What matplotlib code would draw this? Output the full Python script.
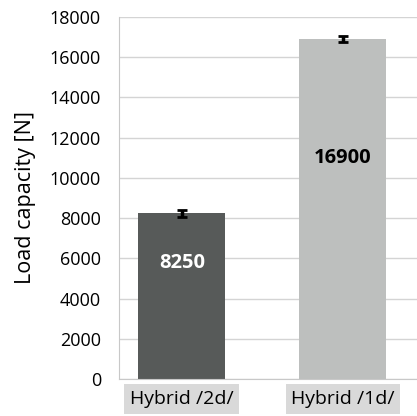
import matplotlib.pyplot as plt

categories = ['Hybrid /2d/', 'Hybrid /1d/']
load = [8250, 16900]
errors = [170, 150]
bar_colors = ['#575a59', '#bdbfbe']
label_colors = ['white', 'black']
yticks = list(range(0, 18001, 2000))

plt.rcParams['font.family'] = ['Open Sans', 'DejaVu Sans']

fig = plt.figure(figsize=(4.17, 4.16), dpi=100)
ax = fig.add_axes([119 / 417, 1 - 379 / 416, 1 - 119 / 417, 362 / 416])

x = list(range(len(categories)))
ax.bar(x, load, width=0.54, color=bar_colors, zorder=2)
ax.errorbar(x, load, yerr=errors, fmt='none', ecolor='black', elinewidth=2.5,
            capsize=3.5, capthick=2, zorder=3)

# value labels inside the bars
label_pos = [0.70, 0.65]
for i, v in enumerate(load):
    ax.text(i, v * label_pos[i], str(v), ha='center', va='center',
            fontsize=14.5, fontweight='bold', color=label_colors[i], zorder=4)

ax.set_xlim(-0.391, 1.46)
ax.set_ylim(0, 18000)
ax.set_yticks(yticks)
ax.set_xticks(x)
ax.set_xticklabels(categories, fontsize=14)
for lbl in ax.get_xticklabels():
    lbl.set_bbox(dict(facecolor='#d9d9d9', edgecolor='none', pad=4))
ax.tick_params(axis='y', labelsize=13, length=0, pad=13)
ax.tick_params(axis='x', length=0, pad=8)
ax.set_ylabel('Load capacity [N]', fontsize=15.5, labelpad=10)

ax.grid(axis='y', color='#d4d4d4', linewidth=1, zorder=0)
for side in ['top', 'right']:
    ax.spines[side].set_visible(False)
ax.spines['left'].set_color('#c8c8c8')
ax.spines['bottom'].set_color('#c8c8c8')

fig.savefig('out.png', dpi=100)
